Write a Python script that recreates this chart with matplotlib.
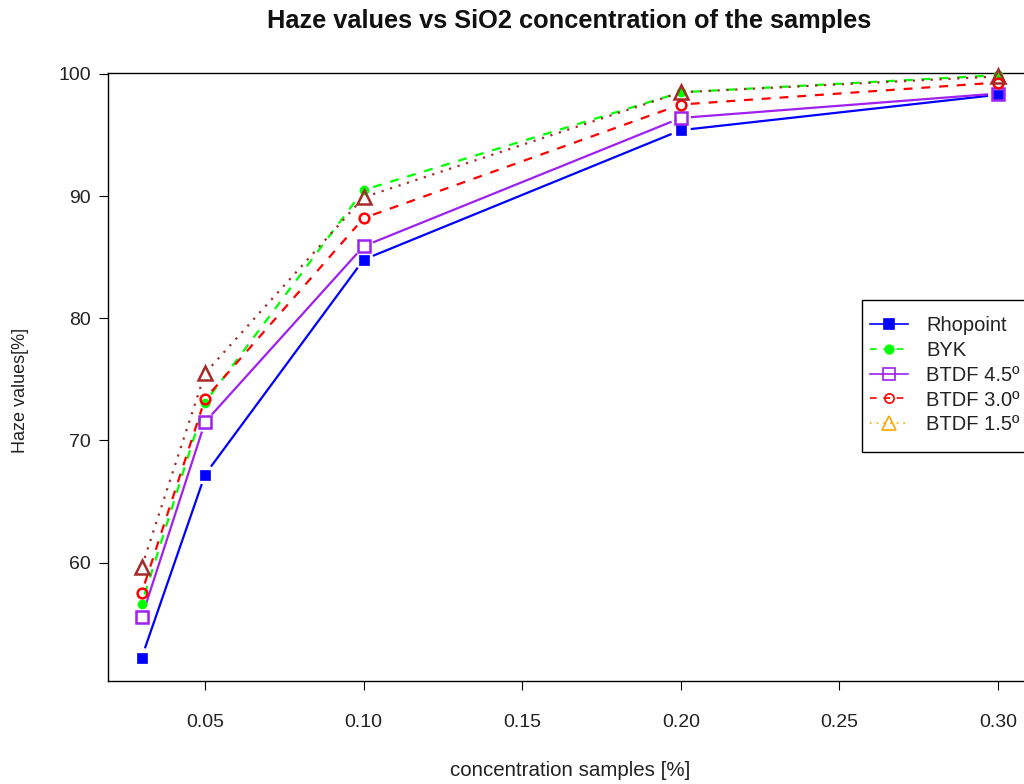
import numpy as np
import matplotlib
matplotlib.use("Agg")
from matplotlib import pyplot as plt
from matplotlib.lines import Line2D
from matplotlib.patches import Rectangle

plt.rcParams["font.family"] = ["Liberation Sans", "DejaVu Sans"]

concentration = [0.03, 0.05, 0.10, 0.20, 0.30]
rhopoint = [52.2, 67.2, 84.8, 95.4, 98.3]
byk = [56.6, 73.1, 90.5, 98.5, 99.9]
btdf_45 = [55.5, 71.5, 85.9, 96.4, 98.4]
btdf_30 = [57.5, 73.4, 88.2, 97.5, 99.3]
btdf_15 = [59.6, 75.5, 89.9, 98.5, 99.8]

series = [
    # label, values, line colour, legend colour, marker, size, filled, dashes
    ("Rhopoint", rhopoint, "#0000FF", "#0000FF", "s", 7, True, None),
    ("BYK", byk, "#00FF00", "#00FF00", "o", 6.5, True, (4, 4)),
    ("BTDF 4.5º", btdf_45, "#A020F0", "#A020F0", "s", 9, False, None),
    ("BTDF 3.0º", btdf_30, "#FF0000", "#FF0000", "o", 7, False, (4, 4)),
    ("BTDF 1.5º", btdf_15, "#A52A2A", "#FFA500", "^", 10, False, (1, 3)),
]

W, H = 1024, 784
fig = plt.figure(figsize=(W / 100, H / 100), dpi=100)
ax = fig.add_axes([108 / W, 1 - 681 / H, (1032 - 108) / W, (681 - 73) / H])
ax.set_xlim(0.0194, 0.3107)
ax.set_ylim(50.3, 100.08)

for s in ax.spines.values():
    s.set_linewidth(1.0)
    s.set_color("black")

ax.set_xticks([0.05, 0.10, 0.15, 0.20, 0.25, 0.30])
ax.set_xticklabels(["0.05", "0.10", "0.15", "0.20", "0.25", "0.30"])
ax.set_yticks([60, 70, 80, 90, 100])
ax.tick_params(axis="both", direction="out", length=6.5, width=0.8, labelsize=14, colors="black")
ax.tick_params(axis="x", pad=17)
ax.tick_params(axis="y", pad=6)
for lab in ax.get_xticklabels() + ax.get_yticklabels():
    lab.set_color("#222222")


def draw_series(xs, ys, color, dashes, marker, ms, filled, gap=10):
    # R type="b": line segments stop short of the points
    pts = ax.transData.transform(np.column_stack([xs, ys]))
    inv = ax.transData.inverted()
    for p0, p1 in zip(pts[:-1], pts[1:]):
        d = p1 - p0
        n = np.hypot(*d)
        if n <= 2 * gap:
            continue
        u = d / n
        seg = inv.transform(np.array([p0 + u * gap, p1 - u * gap]))
        kw = dict(color=color, lw=1.6, solid_capstyle="butt", dash_capstyle="butt")
        if dashes is not None:
            kw["dashes"] = dashes
        ax.plot(seg[:, 0], seg[:, 1], **kw)
    ax.plot(xs, ys, ls="none", marker=marker, ms=ms,
            mfc=color if filled else "none", mec=color, mew=1.8 if not filled else 0.5,
            clip_on=False, zorder=3)


for label, vals, col, lcol, mk, ms, filled, dashes in series:
    draw_series(concentration, vals, col, dashes, mk, ms, filled)

handles = []
for label, vals, col, lcol, mk, ms, filled, dashes in series:
    h = Line2D([], [], color=lcol, lw=1.2, marker=mk, ms=ms * 0.95,
               mfc=lcol if filled else "none", mec=lcol, mew=1.2)
    if dashes is not None:
        h.set_dashes(dashes)
    handles.append(h)

# legend frame drawn separately so it runs off the right edge like the original
ax.add_patch(Rectangle((862 / W, 1 - 452 / H), (1045 - 862) / W, (452 - 300) / H,
                       transform=fig.transFigure, facecolor="white",
                       edgecolor="black", lw=1.0, zorder=4, clip_on=False))
leg = ax.legend(handles, [s[0] for s in series], loc="upper left",
                bbox_to_anchor=(870 / W, 1 - 316 / H),
                bbox_transform=fig.transFigure, borderaxespad=0, borderpad=0,
                frameon=False, fontsize=14.5,
                handlelength=1.9, handletextpad=0.9, labelspacing=0.29)
leg.set_zorder(5)
for t in leg.get_texts():
    t.set_color("#222222")

fig.text(569 / W, 1 - 21 / H, "Haze values vs SiO2 concentration of the samples",
         ha="center", va="center", fontsize=18.3, fontweight="bold", color="#111111")
fig.text(570 / W, 1 - 771 / H, "concentration samples [%]",
         ha="center", va="center", fontsize=14.8, color="#222222")
fig.text(21 / W, 1 - 390 / H, "Haze values[%]", rotation=90,
         ha="center", va="center", fontsize=13, color="#222222")

fig.savefig("out.png", dpi=100)
